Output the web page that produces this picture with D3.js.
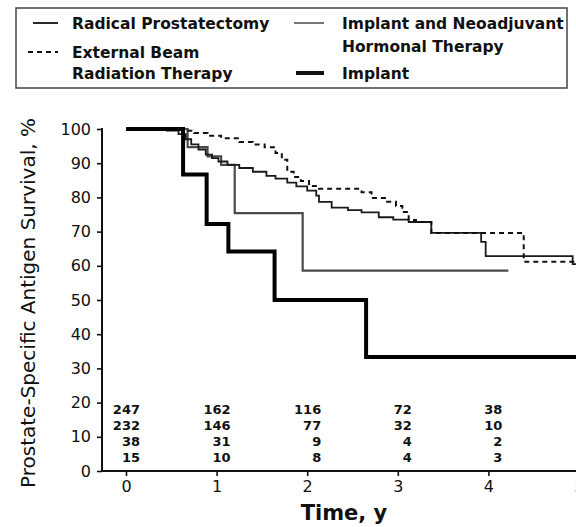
<!DOCTYPE html>
<html>
<head>
<meta charset="utf-8">
<script src="https://cdn.jsdelivr.net/npm/d3@7"></script>
<style>
  body { margin: 0; background: #fff; }
  svg { display: block; }
  text { font-family: "DejaVu Sans", sans-serif; fill: #111; }
</style>
</head>
<body>
<svg id="chart" width="576" height="527"></svg>
<script>
// Kaplan-Meier style step curves (time in years, survival in %)
const rpTime = [0, 0.45, 0.58, 0.66, 0.72, 0.8, 0.88, 0.95, 1.02, 1.12, 1.25, 1.4, 1.55, 1.65, 1.78, 1.88, 2.0, 2.1, 2.13, 2.27, 2.45, 2.6, 2.79, 2.95, 3.12, 3.37, 3.92, 3.97, 4.93, 5.1];
const rpSurv = [100, 99.5, 98.5, 97, 95.5, 94, 92.5, 91.5, 90.5, 89.5, 88.6, 87.5, 86.3, 85.5, 84.3, 83.2, 82, 80.5, 78.7, 77, 76.3, 75.6, 74.2, 73.5, 72.8, 69.6, 67, 62.8, 60.5, 60.5];

const ebrtTime = [0, 0.62, 0.75, 0.9, 1.05, 1.25, 1.4, 1.53, 1.65, 1.72, 1.78, 1.85, 1.93, 2.02, 2.13, 2.6, 2.71, 2.87, 2.98, 3.05, 3.12, 3.2, 3.37, 4.39, 5.1];
const ebrtSurv = [100, 99.5, 98.8, 98, 97.3, 96.2, 95.5, 94.7, 93, 91, 87.5, 86, 84.8, 83.3, 82.5, 81.5, 79.8, 78.7, 77.5, 75.7, 73.4, 72.8, 69.6, 61.2, 61.2];

const neoTime = [0, 0.68, 0.9, 1.05, 1.2, 1.95, 4.22];
const neoSurv = [100, 94.7, 92, 89.5, 75.4, 58.6, 58.6];

const implantTime = [0, 0.63, 0.89, 1.13, 1.64, 2.65, 5.1];
const implantSurv = [100, 86.7, 72.2, 64.2, 50, 33.3, 33.3];

// axes
const xTicks = [0, 1, 2, 3, 4, 5];
const yTicks = [0, 10, 20, 30, 40, 50, 60, 70, 80, 90, 100];

// numbers at risk, one row per group, one value per year tick
const atRiskRP = [247, 162, 116, 72, 38, 12];
const atRiskEBRT = [232, 146, 77, 32, 10, null];
const atRiskNeo = [38, 31, 9, 4, 2, null];
const atRiskImplant = [15, 10, 8, 4, 3, null];

const svg = d3.select("#chart");

const x = d3.scaleLinear().domain([0, 5]).range([126, 579]);
const y = d3.scaleLinear().domain([0, 100]).range([471, 129]);

function pts(times, surv) {
  return times.map((t, i) => ({ t, s: surv[i] }));
}

const line = d3.line()
  .x(d => x(d.t))
  .y(d => y(d.s))
  .curve(d3.curveStepAfter);

// ---- legend box
const legend = svg.append("g");
legend.append("rect")
  .attr("x", 16).attr("y", 8).attr("width", 551).attr("height", 80)
  .attr("fill", "none").attr("stroke", "#444").attr("stroke-width", 1.5);

const legendItems = [
  { lines: ["Radical Prostatectomy"], x1: 33, x2: 58, ly: 23, tx: 72, ty: [23], stroke: "#111", width: 1.8, dash: null },
  { lines: ["External Beam", "Radiation Therapy"], x1: 28, x2: 58, ly: 52, tx: 72, ty: [52, 73], stroke: "#111", width: 1.8, dash: "5,4" },
  { lines: ["Implant and Neoadjuvant", "Hormonal Therapy"], x1: 294, x2: 324, ly: 23, tx: 342, ty: [23, 46], stroke: "#777", width: 2, dash: null },
  { lines: ["Implant"], x1: 296, x2: 324, ly: 73, tx: 342, ty: [73], stroke: "#111", width: 4, dash: null }
];

legendItems.forEach(item => {
  legend.append("line")
    .attr("x1", item.x1).attr("x2", item.x2)
    .attr("y1", item.ly).attr("y2", item.ly)
    .attr("stroke", item.stroke)
    .attr("stroke-width", item.width)
    .attr("stroke-dasharray", item.dash);
  item.lines.forEach((txt, i) => {
    legend.append("text")
      .attr("x", item.tx).attr("y", item.ty[i])
      .attr("dy", "0.36em")
      .attr("font-size", 15.5)
      .attr("font-weight", "bold")
      .text(txt);
  });
});

// ---- axes
const yAxis = d3.axisLeft(y).tickValues(yTicks).tickSize(5).tickPadding(6);
const gy = svg.append("g").attr("transform", "translate(102,0)").call(yAxis);

const xAxis = d3.axisBottom(x).tickValues(xTicks).tickFormat(d3.format("d")).tickSize(5).tickPadding(5);
const gx = svg.append("g").attr("transform", "translate(0,471)").call(xAxis);

[gy, gx].forEach(g => {
  g.select(".domain").remove();
  g.selectAll(".tick line").attr("stroke", "#111").attr("stroke-width", 1.6);
  g.selectAll(".tick text")
    .attr("fill", "#111")
    .attr("font-size", 16)
    .attr("font-family", "DejaVu Sans, sans-serif");
});

svg.append("line")
  .attr("x1", 102).attr("x2", 102).attr("y1", y(100) - 1).attr("y2", y(0))
  .attr("stroke", "#111").attr("stroke-width", 2);
svg.append("line")
  .attr("x1", 102).attr("x2", 576).attr("y1", y(0)).attr("y2", y(0))
  .attr("stroke", "#111").attr("stroke-width", 2);

// ---- curves
const curves = [
  { data: pts(neoTime, neoSurv), stroke: "#4a4a4a", width: 2.2, dash: null },
  { data: pts(rpTime, rpSurv), stroke: "#1a1a1a", width: 1.8, dash: null },
  { data: pts(ebrtTime, ebrtSurv), stroke: "#111", width: 2, dash: "5,4" },
  { data: pts(implantTime, implantSurv), stroke: "#000", width: 4, dash: null }
];

curves.forEach(c => {
  svg.append("path")
    .datum(c.data)
    .attr("fill", "none")
    .attr("stroke", c.stroke)
    .attr("stroke-width", c.width)
    .attr("stroke-dasharray", c.dash)
    .attr("d", line);
});

// ---- numbers at risk
const riskRows = [atRiskRP, atRiskEBRT, atRiskNeo, atRiskImplant];
const riskY = [409, 425, 441, 457];
riskRows.forEach((row, r) => {
  svg.append("g").selectAll("text")
    .data(row.map((v, i) => ({ v, t: xTicks[i] })).filter(d => d.v !== null))
    .join("text")
    .attr("x", d => x(d.t) + 14)
    .attr("y", riskY[r])
    .attr("dy", "0.36em")
    .attr("text-anchor", "end")
    .attr("font-size", 13)
    .attr("font-weight", "bold")
    .text(d => d.v);
});

// ---- axis titles
svg.append("text")
  .attr("transform", "translate(28,303) rotate(-90)")
  .attr("text-anchor", "middle")
  .attr("dy", "0.36em")
  .attr("font-size", 20)
  .text("Prostate-Specific Antigen Survival, %");

svg.append("text")
  .attr("x", 344).attr("y", 512)
  .attr("text-anchor", "middle")
  .attr("dy", "0.36em")
  .attr("font-size", 21)
  .attr("font-weight", "bold")
  .text("Time, y");
</script>
</body>
</html>
